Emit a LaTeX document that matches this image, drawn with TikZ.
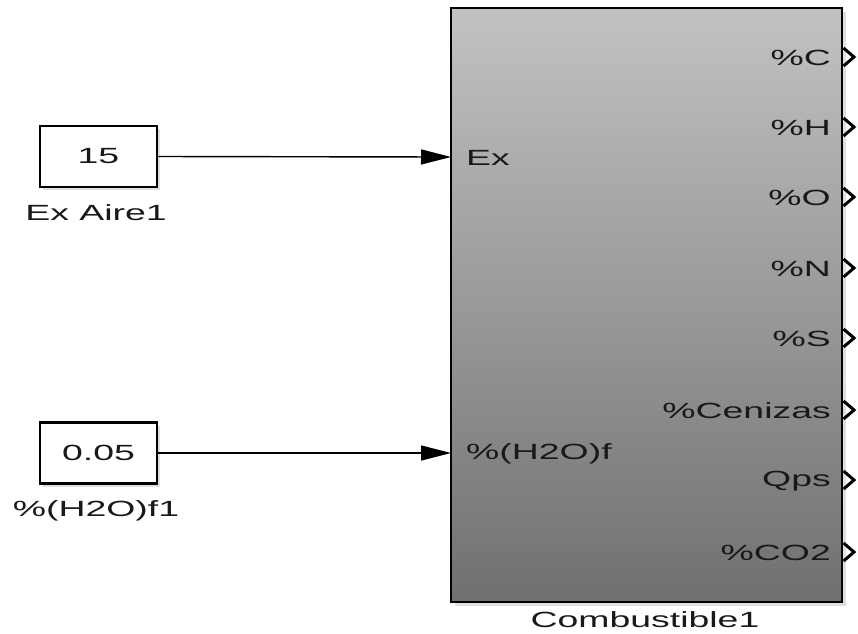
\documentclass[tikz,border=0pt]{standalone}
\usepackage{fontspec}
\setmainfont{Liberation Sans}[FakeStretch=1.7]
\usetikzlibrary{arrows.meta}
\definecolor{blocktop}{RGB}{194,194,194}
\definecolor{blockbot}{RGB}{112,112,112}
\definecolor{txt}{RGB}{25,25,25}
\tikzset{
  x=1pt, y=-1pt,
  every node/.style={font=\fontsize{22}{26}\selectfont, text=txt, inner sep=0pt},
  constbox/.style={draw=black, line width=2.6pt, fill=white, minimum width=117pt, minimum height=61pt},
  signal/.style={line width=1.4pt, -{Triangle[length=30pt,width=15pt]}},
  outport/.style={draw=black, line width=3pt, line join=miter},
  portlabel/.style={anchor=east},
  shadowbox/.style={fill=black!25, opacity=0.5},
}
\begin{document}
\begin{tikzpicture}
\useasboundingbox (0,0) rectangle (858,633);

% subsystem block with shading and a soft drop shadow
\fill[shadowbox] (455,12) rectangle (846,606);
\shade[top color=blocktop, bottom color=blockbot] (451,8) rectangle (842,602);
\node[draw=black, line width=2.6pt, minimum width=391pt, minimum height=594pt] (sub) at (646.5,305) {};
\node (subname) at (645,620) {Combustible1};

% input ports
\coordinate (inEx) at (451,157);
\coordinate (inH) at (451,453);
\node[anchor=west] (lEx) at (466,158) {Ex};
\node[anchor=west] (lH) at (466,454) {\%(H2O)f};

% output ports
\foreach \name/\lab/\yy in {oC/\%C/57, oH/\%H/127, oO/\%O/197, oN/\%N/268, oS/\%S/338, oCen/\%Cenizas/410, oQ/Qps/480, oCO/\%CO2/552}{
  \coordinate (\name) at (842,\yy);
  \draw[outport] (843.5,\yy-9) -- (854,\yy) -- (843.5,\yy+9);
  \node[portlabel] (l\name) at (831,\yy+1) {\lab};
}

% constant blocks
\fill[shadowbox] (43,129) rectangle (160,190);
\node[constbox] (c1) at (98.5,156.5) {15};
\node (c1name) at (96,213) {Ex Aire1};
\fill[shadowbox] (43,426) rectangle (160,487);
\node[constbox] (c2) at (98.5,453) {0.05};
\node (c2name) at (96,511) {\%(H2O)f1};

% signal lines
\draw[signal] (c1.east) -- (inEx);
\draw[signal] (c2.east) -- (inH);
\end{tikzpicture}
\end{document}
